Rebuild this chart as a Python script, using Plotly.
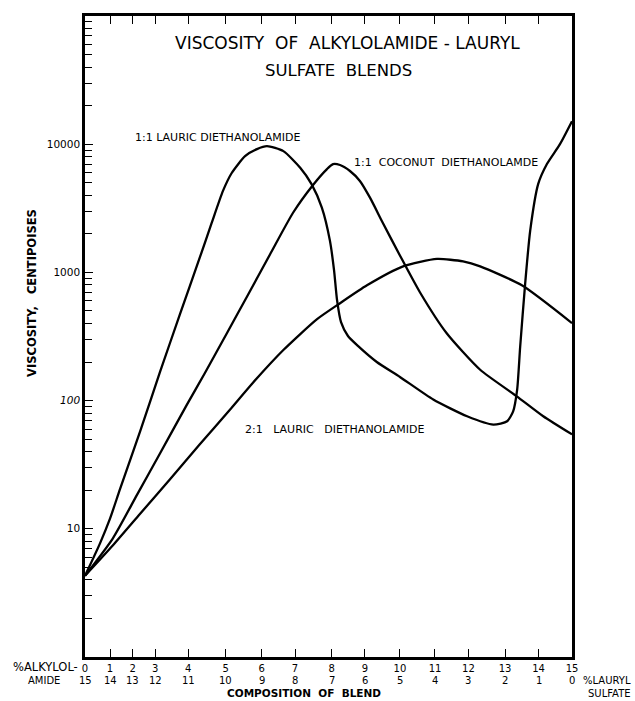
import numpy as np
import plotly.graph_objects as go

# ---- axis scale (original chart has a non-uniform composition scale) ----
TICK_COMP = list(range(16))
TICK_POS = [0, 0.77, 1.47, 2.16, 3.18, 4.33, 5.44, 6.47, 7.60, 8.62, 9.70,
            10.78, 11.81, 12.94, 13.97, 15.0]
PCT_ALKYLOLAMIDE = ["0", "1", "2", "3", "4", "5", "6", "7", "8", "9", "10",
                    "11", "12", "13", "14", "15"]
PCT_LAURYL_SULFATE = ["15", "14", "13", "12", "11", "10", "9", "8", "7", "6",
                      "5", "4", "3", "2", "1", "0"]
Y_TICKS = [10, 100, 1000, 10000]
Y_TICK_TEXT = ["10", "<i>100</i>", "1000", "10000"]

# ---- series (composition = % alkylolamide, viscosity in centipoises) ----
lauric11_comp = [0, 0.6, 1.0, 1.44, 2.33, 3.15, 3.75, 4.31, 4.63, 4.93,
                 5.17, 5.54, 5.87, 6.16, 6.65, 7.14, 7.45, 7.73, 7.95, 8.07,
                 8.16, 8.28, 8.49, 8.79, 9.34, 10.0, 10.95, 11.96, 12.68,
                 13.06, 13.24, 13.36, 13.45, 13.6, 13.75, 13.99, 14.25, 14.64,
                 15.0]
lauric11_visc = [4.3, 7.7, 12, 20.4, 57.5, 168, 472, 1307, 2440, 4320,
                 5960, 8070, 9150, 9650, 8830, 6550, 4880, 3200, 1770, 1037,
                 607, 409, 319, 267, 200, 153, 102, 75.5, 65,
                 69, 82.5, 122, 263, 820, 2120, 4900, 7000, 10000,
                 15100]

coconut11_comp = [0, 1.12, 2.19, 3.15, 3.96, 4.45, 5.04, 5.6, 6.25, 6.94,
                  7.49, 7.87, 8.04, 8.25, 8.55, 8.85, 9.15, 9.51, 10.0, 10.57,
                  11.35, 12.32, 13.35, 14.14, 15.0]
coconut11_visc = [4.3, 8.4, 18.4, 38.8, 93, 165, 337, 652, 1380, 2920,
                  4810, 6400, 7000, 6880, 6180, 5170, 3810, 2440, 1355, 700,
                  335, 174, 108, 75.5, 54.5]

lauric21_comp = [0, 1.12, 2.33, 3.45, 4.31, 5.12, 5.76, 6.65, 7.6, 8.25,
                 9.06, 10.09, 11.06, 11.84, 12.32, 13.5, 15.0]
lauric21_visc = [4.3, 7.4, 13.1, 24.4, 45.6, 85, 138, 248, 432, 575,
                 793, 1114, 1273, 1218, 1114, 793, 402]


def to_axis(comp):
    return np.interp(comp, TICK_COMP, TICK_POS)


FONT = "DejaVu Sans"
fig = go.Figure()
for comp, visc in [(lauric11_comp, lauric11_visc),
                   (coconut11_comp, coconut11_visc),
                   (lauric21_comp, lauric21_visc)]:
    fig.add_trace(go.Scatter(
        x=to_axis(comp), y=visc, mode="lines",
        line=dict(color="black", width=2.3, shape="spline", smoothing=0.6),
        showlegend=False, hoverinfo="skip"))

minor_vals = [k * 10 ** e for e in range(0, 5) for k in range(2, 10)]

fig.update_layout(
    width=635, height=701,
    margin=dict(l=85, r=63, t=16, b=44),
    paper_bgcolor="white", plot_bgcolor="white",
    font=dict(family=FONT, color="black", size=10),
    xaxis=dict(
        range=[0, 15], showgrid=False, zeroline=False,
        showline=True, linecolor="black", linewidth=2.5, mirror="ticks",
        ticks="inside", ticklen=8, tickwidth=1.2, tickcolor="black",
        tickmode="array", tickvals=TICK_POS, ticktext=PCT_ALKYLOLAMIDE,
        tickfont=dict(size=10, family=FONT),
    ),
    yaxis=dict(
        type="log", range=[0, 5], showgrid=False, zeroline=False,
        showline=True, linecolor="black", linewidth=2.5, mirror=True,
        ticks="inside", ticklen=8, tickwidth=1.2, tickcolor="black",
        tickmode="array", tickvals=Y_TICKS, ticktext=Y_TICK_TEXT,
        tickfont=dict(size=10.5, family=FONT),
        minor=dict(ticks="inside", ticklen=7, tickwidth=1.1, tickcolor="black",
                   tickmode="array", tickvals=minor_vals, showgrid=False),
    ),
)


def px_x(px):
    return (px - 85) / 487.0


def px_y(py):
    return (657 - py) / 641.0


def note(text, x, y, size=10, xanchor="center", bold=False, angle=0,
         xref="paper"):
    fig.add_annotation(
        text=f"<b>{text}</b>" if bold else text,
        x=px_x(x) if xref == "paper" else x, y=px_y(y),
        xref=xref, yref="paper",
        xanchor=xanchor, yanchor="middle", showarrow=False, textangle=angle,
        font=dict(family=FONT, size=size, color="black"))


# second row of composition labels (% lauryl sulfate), under each tick
for pos, lab in zip(TICK_POS, PCT_LAURYL_SULFATE):
    note(lab, pos, 680.5, size=10, xref="x")

note("VISCOSITY  OF  ALKYLOLAMIDE - LAURYL", 347, 43, size=17)
note("SULFATE  BLENDS", 338, 70, size=16.5)
note("1:1 LAURIC DIETHANOLAMIDE", 133, 137, xanchor="left", size=11)
note("1:1  COCONUT  DIETHANOLAMDE", 352, 162, xanchor="left", size=11)
note("2:1   LAURIC   DIETHANOLAMIDE", 243, 429, xanchor="left", size=11)
note("VISCOSITY,   CENTIPOISES", 32, 293, size=11.5, bold=True, angle=-90)
note("COMPOSITION  OF  BLEND", 304, 693, size=10.5, bold=True)
note("%ALKYLOL-", 80, 667, xanchor="right", size=11.5)
note("AMIDE", 62, 680.5, xanchor="right", size=10)
note("%LAURYL", 581, 680.5, xanchor="left", size=10)
note("SULFATE", 586, 693, xanchor="left", size=10)

fig.write_html("out.html")
